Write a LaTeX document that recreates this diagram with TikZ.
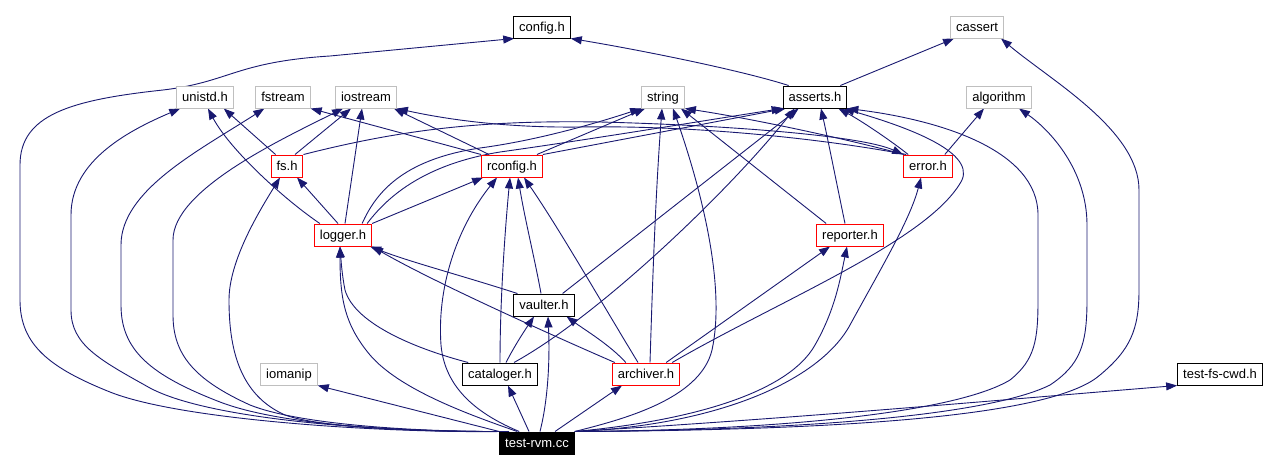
\documentclass[tikz,border=0pt]{standalone}
\usepackage{fontspec}
\setmainfont{Liberation Sans}
\usetikzlibrary{arrows.meta,backgrounds}
\definecolor{edgeblue}{HTML}{191970}
\definecolor{sysgrey}{HTML}{BFBFBF}
\definecolor{partred}{HTML}{FF0000}

\begin{document}
\begin{tikzpicture}[x=1pt,y=-1pt,
  font=\fontsize{13}{15}\selectfont,
  docbox/.style={rectangle,draw=black,fill=white,line width=1pt,minimum height=22pt,inner xsep=5.5pt,inner ysep=0pt,text height=10pt,text depth=2pt},
  partbox/.style={docbox,draw=partred},
  sysbox/.style={docbox,draw=sysgrey},
  rootbox/.style={docbox,fill=black,text=white},
  incl/.style={draw=edgeblue,line width=0.9pt,-{Triangle[length=11pt,width=8pt]}}]
\useasboundingbox (0,0) rectangle (1271,471);
\node[docbox] (config) at (542,27) {config.h};
\node[sysbox] (cassert) at (977,27) {cassert};
\node[sysbox] (unistd) at (205,97) {unistd.h};
\node[sysbox] (fstream) at (283,97) {fstream};
\node[sysbox] (iostream) at (366,97) {iostream};
\node[sysbox] (string) at (663,97) {string};
\node[docbox] (asserts) at (815,97) {asserts.h};
\node[sysbox] (algorithm) at (999,97) {algorithm};
\node[partbox] (fs) at (287,166) {fs.h};
\node[partbox] (rconfig) at (512,166) {rconfig.h};
\node[partbox] (error) at (928,166) {error.h};
\node[partbox] (logger) at (343,235) {logger.h};
\node[partbox] (reporter) at (850,235) {reporter.h};
\node[docbox] (vaulter) at (544,305) {vaulter.h};
\node[sysbox] (iomanip) at (289,374) {iomanip};
\node[docbox] (cataloger) at (500,374) {cataloger.h};
\node[partbox] (archiver) at (646,374) {archiver.h};
\node[docbox] (testfscwd) at (1220,374) {test-fs-cwd.h};
\node[rootbox] (testrvm) at (537,443) {test-rvm.cc};
\begin{scope}[on background layer]
\draw[incl] ([xshift=2pt]testrvm.north west) .. controls (380,433) and (180,420) .. (110,392) .. controls (50,368) and (20,345) .. (20,300) -- (20,165) .. controls (20,115) and (70,100) .. (163,90) .. controls (230,82) and (235,62) .. (330,56) -- ([xshift=1pt]config.south west);
\draw[incl] ([xshift=4pt]testrvm.north west) .. controls (380,432) and (210,420) .. (150,388) .. controls (100,360) and (71,345) .. (71,310) -- (71,215) .. controls (71,160) and (130,130) .. ([xshift=4pt]unistd.south west);
\draw[incl] ([xshift=6pt]testrvm.north west) .. controls (400,432) and (280,425) .. (220,402) .. controls (150,375) and (121,350) .. (121,305) -- (121,245) .. controls (121,190) and (200,150) .. ([xshift=9pt]fstream.south west);
\draw[incl] ([xshift=8pt]testrvm.north west) .. controls (420,432) and (300,425) .. (250,405) .. controls (195,380) and (173,355) .. (173,315) -- (173,240) .. controls (173,190) and (280,140) .. ([xshift=8pt]iostream.south west);
\draw[incl] ([xshift=10pt]testrvm.north west) .. controls (430,432) and (320,428) .. (285,415) .. controls (240,395) and (229,350) .. (229,300) .. controls (229,260) and (260,210) .. ([xshift=-7pt]fs.south);
\draw[incl] ([xshift=18pt]testrvm.north west) .. controls (470,415) and (400,390) .. (370,355) .. controls (345,325) and (340,300) .. ([xshift=-3pt]logger.south);
\draw[incl] ([xshift=20pt]testrvm.north west) .. controls (480,415) and (445,390) .. (441,345) .. controls (437,290) and (455,230) .. ([xshift=-15pt]rconfig.south);
\draw[incl] (testrvm.north west) -- (iomanip.south east);
\draw[incl] ([xshift=-8pt]testrvm.north) -- ([xshift=8pt]cataloger.south);
\draw[incl] ([xshift=3pt]testrvm.north) .. controls (548,400) and (550,360) .. ([xshift=4pt]vaulter.south);
\draw[incl] ([xshift=18pt]testrvm.north) -- ([xshift=-24pt]archiver.south);
\draw[incl] (testrvm.north east) .. controls (620,420) and (700,400) .. (712,350) .. controls (725,290) and (705,200) .. ([xshift=10pt]string.south);
\draw[incl] (testrvm.north east) .. controls (700,420) and (790,390) .. (815,345) .. controls (835,310) and (840,280) .. ([xshift=-3pt]reporter.south);
\draw[incl] (testrvm.north east) .. controls (720,425) and (820,380) .. (850,325) .. controls (880,270) and (910,220) .. ([xshift=-7pt]error.south);
\draw[incl] (testrvm.north east) .. controls (800,430) and (960,410) .. (1010,380) .. controls (1035,360) and (1038,340) .. (1038,300) -- (1038,215) .. controls (1038,150) and (940,120) .. (asserts.south east);
\draw[incl] (testrvm.north east) .. controls (850,430) and (1000,410) .. (1050,385) .. controls (1080,365) and (1087,345) .. (1087,300) -- (1087,225) .. controls (1087,170) and (1050,130) .. ([xshift=20pt]algorithm.south);
\draw[incl] (testrvm.north east) .. controls (900,430) and (1060,410) .. (1100,375) .. controls (1130,350) and (1139,330) .. (1139,290) -- (1139,190) .. controls (1139,130) and (1050,80) .. ([xshift=24pt]cassert.south);
\draw[incl] (testrvm.north east) .. controls (800,418) and (1000,400) .. (testfscwd.south west);
\draw[incl] ([xshift=6pt]asserts.north west) .. controls (740,70) and (640,50) .. (config.south east);
\draw[incl] ([xshift=-7pt]asserts.north east) -- ([xshift=4pt]cassert.south west);
\draw[incl] ([xshift=5pt]fs.north west) -- ([xshift=-10pt]unistd.south east);
\draw[incl] ([xshift=6pt]logger.north west) .. controls (285,200) and (230,150) .. ([xshift=3pt]unistd.south);
\draw[incl] ([xshift=-5pt]logger.north) -- ([xshift=10pt]fs.south);
\draw[incl] ([xshift=2pt]logger.north) -- ([xshift=-4pt]iostream.south);
\draw[incl] ([xshift=8pt]fs.north) -- ([xshift=-15pt]iostream.south);
\draw[incl] (rconfig.north west) -- (fstream.south east);
\draw[incl] ([xshift=8pt]rconfig.north west) -- ([xshift=-3pt]iostream.south east);
\draw[incl] ([xshift=3pt]error.north west) .. controls (830,140) and (700,125) .. (580,127) .. controls (500,128) and (440,118) .. (iostream.south east);
\draw[incl] (fs.north east) .. controls (400,130) and (480,120) .. (600,122) .. controls (720,125) and (860,135) .. (error.north west);
\draw[incl] ([xshift=-10pt]logger.north east) .. controls (375,195) and (400,160) .. (480,148) .. controls (540,140) and (600,122) .. (string.south west);
\draw[incl] ([xshift=-5pt]logger.north east) .. controls (385,200) and (420,165) .. (500,152) .. controls (600,138) and (720,118) .. (asserts.south west);
\draw[incl] (logger.north east) -- ([xshift=2pt]rconfig.south west);
\draw[incl] ([xshift=-6pt]rconfig.north east) -- ([xshift=4pt]string.south west);
\draw[incl] (rconfig.north east) -- ([xshift=3pt]asserts.south west);
\draw[incl] ([xshift=1pt]error.north west) .. controls (850,140) and (760,120) .. (string.south east);
\draw[incl] ([xshift=5pt]error.north west) .. controls (890,140) and (860,120) .. ([xshift=-9pt]asserts.south east);
\draw[incl] ([xshift=-8pt]error.north east) -- ([xshift=-15pt]algorithm.south);
\draw[incl] ([xshift=10pt]reporter.north west) -- ([xshift=-4pt]string.south east);
\draw[incl] ([xshift=-5pt]reporter.north) .. controls (838,190) and (828,140) .. ([xshift=6pt]asserts.south);
\draw[incl] ([xshift=4pt]vaulter.north west) .. controls (460,275) and (410,262) .. ([xshift=-2pt]logger.south east);
\draw[incl] ([xshift=-3pt]vaulter.north) .. controls (535,260) and (525,220) .. ([xshift=6pt]rconfig.south);
\draw[incl] ([xshift=-12pt]vaulter.north east) -- ([xshift=16pt]asserts.south west);
\draw[incl] ([xshift=6pt]cataloger.north west) .. controls (420,350) and (355,325) .. (345,290) .. controls (342,275) and (341,260) .. ([xshift=-3pt]logger.south);
\draw[incl] ([xshift=6pt]cataloger.north) .. controls (515,345) and (525,330) .. ([xshift=-10pt]vaulter.south);
\draw[incl] (cataloger.north) .. controls (500,300) and (505,230) .. ([xshift=-2pt]rconfig.south);
\draw[incl] ([xshift=14pt]cataloger.north) .. controls (600,315) and (730,190) .. ([xshift=12pt]asserts.south west);
\draw[incl] ([xshift=3pt]archiver.north west) .. controls (540,330) and (430,280) .. (logger.south east);
\draw[incl] ([xshift=14pt]archiver.north west) .. controls (610,345) and (585,330) .. ([xshift=-8pt]vaulter.south east);
\draw[incl] ([xshift=-8pt]archiver.north) .. controls (600,300) and (560,230) .. ([xshift=12pt]rconfig.south);
\draw[incl] ([xshift=4pt]archiver.north) .. controls (652,300) and (655,200) .. ([xshift=-1pt]string.south);
\draw[incl] ([xshift=-14pt]archiver.north east) -- ([xshift=-20pt]reporter.south);
\draw[incl] ([xshift=-8pt]archiver.north east) .. controls (780,300) and (930,240) .. (962,180) .. controls (975,150) and (900,125) .. ([xshift=-4pt]asserts.south east);
\end{scope}
\end{tikzpicture}
\end{document}
